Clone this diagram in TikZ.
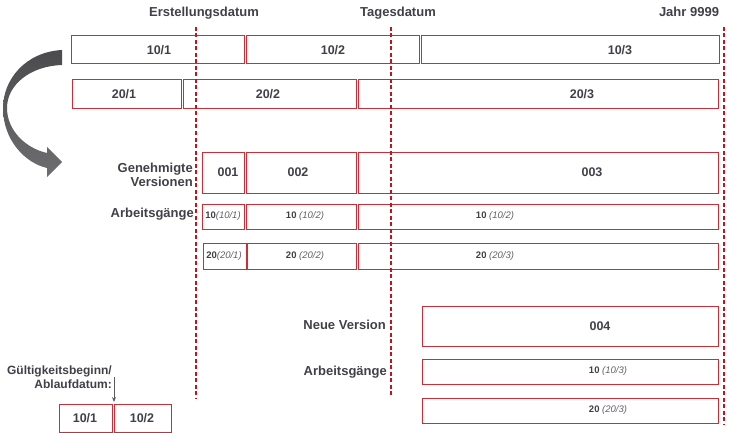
\documentclass[tikz,border=0pt]{standalone}
\usepackage{fontspec}
\setmainfont{Liberation Sans}
\usetikzlibrary{arrows.meta}
\definecolor{txt}{RGB}{64,64,72}
\definecolor{itx}{RGB}{96,96,104}
\definecolor{boxred}{RGB}{205,45,55}
\definecolor{dred}{RGB}{195,20,30}
\tikzset{
  box/.style={draw=boxred,line width=1pt,rectangle,inner sep=0pt,fill=white},
  lbl/.style={font=\fontsize{13}{14}\selectfont\bfseries,text=txt,inner sep=0pt},
  num/.style={font=\fontsize{12.5}{14}\selectfont\bfseries,text=txt,inner sep=0pt},
  small/.style={font=\fontsize{9.5}{11}\selectfont,text=txt,inner sep=0pt},
  dline/.style={draw=dred,line width=1.6pt,dash pattern=on 4pt off 2.5pt},
}
\newcommand\bx[8]{% name, x1, y1, x2, y2, text x, style, text
  \pgfmathsetmacro\bxw{#4-#2}\pgfmathsetmacro\bxh{#5-#3}%
  \pgfmathsetmacro\bxcx{(#2+#4)/2}\pgfmathsetmacro\bxcy{(#3+#5)/2}%
  \node[box,minimum width=\bxw pt,minimum height=\bxh pt] (#1) at (\bxcx,\bxcy) {};
  \node[#7] (#1t) at (#6,\bxcy) {#8};
}
\newcommand\op[2]{\textbf{#1}{\color{itx}\textit{#2}}}
\begin{document}
\begin{tikzpicture}[x=1pt,y=-1pt]
\useasboundingbox (0,0) rectangle (730,433);

% titles
\node[lbl] (t1) at (204,13) {Erstellungsdatum};
\node[lbl] (t2) at (398,13) {Tagesdatum};
\node[lbl] (t3) at (689,12) {Jahr 9999};

% dashed lines
\coordinate (d1t) at (196,27); \coordinate (d1b) at (196,398);
\coordinate (d2t) at (391,27); \coordinate (d2b) at (391,397);
\coordinate (d3t) at (724,27); \coordinate (d3b) at (724,425);

% row 1
\bx{a1}{71}{36}{244}{64}{159}{num}{10/1}
\bx{a2}{246}{36}{419}{64}{333}{num}{10/2}
\bx{a3}{421}{36}{719}{64}{620}{num}{10/3}
% row 2
\bx{b1}{72}{80}{181}{109}{124}{num}{20/1}
\bx{b2}{183}{80}{356}{109}{268}{num}{20/2}
\bx{b3}{358}{80}{718}{109}{582}{num}{20/3}
% versions
\bx{v1}{202}{152}{244}{193}{228}{num}{001}
\bx{v2}{246}{152}{356}{193}{298}{num}{002}
\bx{v3}{358}{152}{718}{193}{592}{num}{003}
% operations
\bx{o11}{202}{204}{244}{229}{223}{small}{\op{10}{(10/1)}}
\bx{o12}{246}{204}{356}{229}{305}{small}{\op{10}{ (10/2)}}
\bx{o13}{358}{204}{718}{229}{495}{small}{\op{10}{ (10/2)}}
\bx{o21}{203}{243}{246}{269}{224}{small}{\op{20}{(20/1)}}
\bx{o22}{247}{243}{356}{269}{305}{small}{\op{20}{ (20/2)}}
\bx{o23}{358}{243}{718}{269}{495}{small}{\op{20}{ (20/3)}}
% new version
\bx{n0}{422}{306}{718}{346}{600}{num}{004}
\bx{n1}{422}{359}{718}{384}{608}{small}{\op{10}{ (10/3)}}
\bx{n2}{422}{398}{718}{423}{608}{small}{\op{20}{ (20/3)}}
% legend boxes
\bx{g1}{59}{404}{112}{432}{85}{num}{10/1}
\bx{g2}{114}{404}{171}{432}{142}{num}{10/2}

% dashed lines on top
\draw[dline] (d1t) -- (d1b);
\draw[dline] (d2t) -- (d2b);
\draw[dline] (d3t) -- (d3b);

% row labels
\node[lbl,anchor=east,align=right,font=\fontsize{13}{14}\selectfont\bfseries] (lgv) at (193,175) {Genehmigte\\Versionen};
\node[lbl,anchor=east] (lag1) at (194,214) {Arbeitsgänge};
\node[lbl,anchor=east] (lnv) at (386,325) {Neue Version};
\node[lbl,anchor=east] (lag2) at (387,372) {Arbeitsgänge};
\node[lbl,anchor=east,align=right,font=\fontsize{12}{14}\selectfont\bfseries] (lgb) at (112,377) {Gültigkeitsbeginn/\\Ablaufdatum:};

% small arrow
\coordinate (ars) at (114,377);
\coordinate (are) at (114,402);
\draw[draw={rgb,255:red,90;green,90;blue,100},line width=0.9pt,-{Stealth[length=5pt,width=4pt]}] (ars) -- (are);

% curved block arrow
\shade[top color={rgb,255:red,75;green,75;blue,78},bottom color={rgb,255:red,110;green,110;blue,112}]
  (62,50) .. controls (25,52) and (3,80) .. (3,108)
  .. controls (3,140) and (25,163) .. (47,168)
  -- (47,177) -- (62,162) -- (47,147) -- (47,153)
  .. controls (25,148) and (7,130) .. (7,108)
  .. controls (7,85) and (30,66) .. (62,65) -- cycle;
\end{tikzpicture}
\end{document}
